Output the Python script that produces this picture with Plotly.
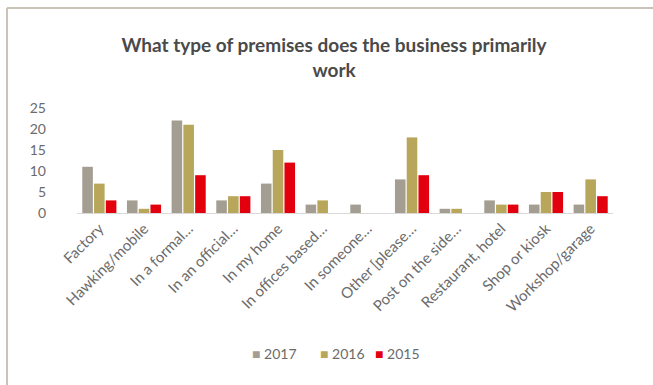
import plotly.graph_objects as go

# Survey categories (long labels shortened with an ellipsis, as printed)
categories = [
    "Factory", "Hawking/mobile", "In a formal…", "In an official…", "In my home",
    "In offices based…", "In someone…", "Other [please…", "Post on the side…",
    "Restaurant, hotel", "Shop or kiosk", "Workshop/garage",
]

# Counts per year
values_2017 = [11, 3, 22, 3, 7, 2, 2, 8, 1, 3, 2, 2]
values_2016 = [7, 1, 21, 4, 15, 3, 0, 18, 1, 2, 5, 8]
values_2015 = [3, 2, 9, 4, 12, 0, 0, 9, 0, 2, 5, 4]

years = ["2017", "2016", "2015"]
y_ticks = [0, 5, 10, 15, 20, 25]

colors = {"2017": "#a39e91", "2016": "#b8a75b", "2015": "#e3000e"}
data = {"2017": values_2017, "2016": values_2016, "2015": values_2015}

fig = go.Figure()
for name in years:
    fig.add_trace(go.Bar(
        name=name, x=categories, y=data[name],
        marker=dict(color=colors[name], line=dict(width=0)),
        showlegend=False,
    ))

# plot-area geometry in pixels
W, H = 653, 385
L, R, T, B = 77, 40, 108, 172
pw, ph = W - L - R, H - T - B

def px_x(x):
    return (x - L) / pw

def px_y(y):
    return (H - B - y) / ph

# thin frame along the top and left edges
frame = "#cbc3b8"
fig.add_shape(type="line", xref="paper", yref="paper",
              x0=px_x(7), x1=px_x(W + 5), y0=px_y(8), y1=px_y(8),
              line=dict(color=frame, width=2))
fig.add_shape(type="line", xref="paper", yref="paper",
              x0=px_x(7), x1=px_x(7), y0=px_y(8), y1=px_y(H + 5),
              line=dict(color=frame, width=2))

font_family = "Lato, Liberation Sans, sans-serif"
text_grey = "#6b6b6b"

# compact legend row below the axis labels
legend_x = [250, 318, 373]
for name, lx in zip(years, legend_x):
    fig.add_annotation(
        xref="paper", yref="paper", x=px_x(lx), y=px_y(353),
        xanchor="left", yanchor="middle", showarrow=False,
        text=f"<span style='color:{colors[name]}'>■</span> {name}",
        font=dict(family=font_family, size=14, color=text_grey),
    )

fig.update_layout(
    width=W, height=H,
    margin=dict(l=L, r=R, t=T, b=B, pad=0),
    paper_bgcolor="white", plot_bgcolor="white",
    barmode="group", bargap=0.21, bargroupgap=0.1,
    title=dict(
        text="<b>What type of premises does the business primarily<br>work</b>",
        x=334 / W, xref="container", xanchor="center",
        y=1 - 52 / H, yref="container", yanchor="middle",
        font=dict(family=font_family, size=19, color="#4a4a4a"),
    ),
    font=dict(family=font_family, color=text_grey),
    showlegend=False,
)

fig.update_xaxes(
    type="category", tickangle=-45,
    showline=True, linecolor="#d9d9d9", linewidth=1,
    ticks="", showgrid=False,
    tickfont=dict(size=15, color=text_grey),
)
fig.update_yaxes(
    range=[0, 25], tickvals=y_ticks, showgrid=False, zeroline=False,
    showline=False, ticks="", ticklabelstandoff=30,
    tickfont=dict(size=14, color=text_grey),
)

fig.write_html("out.html")
